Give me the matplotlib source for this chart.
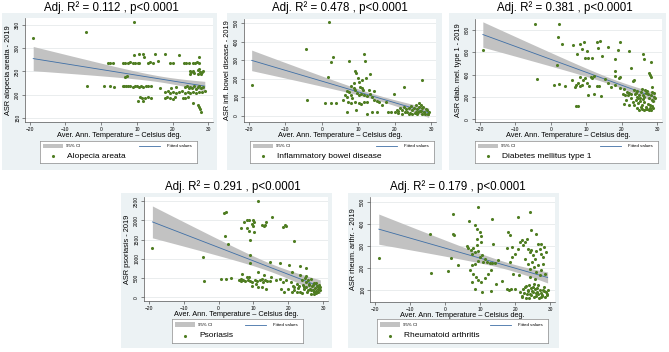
import numpy as np
import matplotlib.pyplot as plt
from matplotlib.patches import Rectangle
from matplotlib.lines import Line2D

plt.rcParams['font.family'] = ['Liberation Sans', 'DejaVu Sans']

# ---- data (temperature, ASR) ----
alo_x = [-19.0, -4.3, 9.3, -4.0, 0.8, 2.4, 3.7,
         1.8, 2.5, 3.2, 6.2, 6.8, 7.5, 8.2, 9.0, 9.6, 10.2, 10.7, 13.0, 13.6, 14.4, 19.2, 20.0, 23.2, 23.8, 24.6, 25.8, 26.3, 26.8, 27.4,
         9.3, 10.5, 11.8, 15.1, 18.0, 21.9, 12.1, 16.0, 27.5,
         24.8, 25.2, 25.6, 26.0, 27.2, 27.8, 28.3, 27.5, 28.0, 27.0, 25.0, 28.5,
         6.8, 7.3,
         6.0, 6.5, 7.0, 7.6, 8.2, 8.8, 9.4, 10.0, 10.6, 11.2, 11.8, 12.5, 13.2, 14.0,
         16.4, 19.5, 20.9,
         23.5, 24.0, 24.5, 25.0, 25.5, 26.0, 26.5, 27.0, 27.5, 28.0, 28.5,
         17.8, 18.6, 19.4, 20.2, 21.0, 21.8, 22.6, 23.4, 24.2, 25.0, 25.8, 26.6, 27.4, 28.2, 29.0,
         10.8, 11.5, 12.3, 13.1, 13.9, 17.8, 18.5, 19.2, 20.0, 20.6, 22.8, 23.6, 24.2,
         10.2, 11.6, 25.8, 27.2, 27.4, 27.8, 28.0]
alo_y = [323, 334, 356, 219, 218, 218, 217,
         268, 269, 269, 269, 268, 269, 270, 269, 268, 269, 269, 269, 270, 269, 268, 269, 269, 268, 269, 268, 269, 270, 268,
         286, 288, 287, 287, 288, 286, 282, 272, 281,
         250, 248, 251, 247, 252, 248, 249, 256, 245, 244, 245, 251,
         237, 240,
         218, 218, 219, 218, 218, 217, 218, 218, 217, 218, 217, 218, 218, 218,
         215, 214, 216,
         216, 218, 214, 217, 215, 219, 213, 216, 218, 214, 217,
         205, 207, 203, 206, 204, 205, 207, 204, 206, 203, 205, 204, 206, 205, 207,
         194, 193, 192, 194, 193, 192, 194, 193, 191, 194, 193, 192, 194,
         187, 187, 181, 178, 173, 168, 163]

ibd_x = [2.1, -4.3, -19.2, -4.1, 3.2, 2.4, 1.6, 0.9, 2.5, 3.8,
         7.4, 11.5, 11.8, 13.3, 12.1, 9.2, 9.4, 10.1, 9.8, 8.7,
         10.4, 11.0, 11.3, 8.7, 9.2, 7.0, 7.5, 6.3, 6.8, 7.9,
         8.3, 9.6, 10.1, 10.8, 11.7, 12.5, 13.2, 13.9, 5.8, 7.3,
         7.9, 9.2, 10.1, 10.8, 11.5, 12.5, 14.2, 15.1, 15.8, 7.0,
         9.4, 12.5, 13.9, 15.1, 16.5, 17.6, 19.7, 22.4, 27.4, 18.1,
         19.0, 20.0, 20.9, 12.9, 14.3, 8.0, 10.9,
         21.4, 21.9, 22.6, 23.3, 23.8, 24.2, 24.7, 25.2, 25.7, 26.1, 26.6, 27.1, 27.5, 28.0, 28.5,
         29.0, 29.3, 26.6, 25.7, 27.1, 24.7, 26.1, 27.5, 29.0, 23.8,
         20.5, 21.0, 22.0, 23.0, 24.5, 25.5, 26.8, 27.8, 28.8, 28.3, 22.8, 26.3]
ibd_y = [504, 360, 164, 86, 317, 288, 209, 70, 70, 70,
         293, 335, 293, 227, 205, 241, 229, 184, 202, 175,
         157, 150, 139, 151, 139, 133, 130, 112, 103, 112,
         94, 121, 112, 115, 112, 108, 115, 103, 85, 76,
         67, 72, 67, 61, 76, 72, 85, 79, 72, 22,
         31, 9, 18, 18, 58, 72, 115, 155, 194, 22,
         18, 22, 25, 140, 135, 160, 195,
         40, 31, 49, 22, 40, 13, 31, 43, 22, 36, 49, 25, 40, 18, 34,
         11, 22, 67, 58, 58, 7, 7, 7, 7, 7,
         30, 15, 8, 35, 55, 12, 28, 45, 30, 10, 20, 18]

dm1_x = [-19.1, -4.3, -4.0, 2.2, 2.0, 3.1, 1.7, 0.9, 2.4, 3.9,
         6.4, 7.3, 8.2, 9.4, 8.9, 10.1, 10.6, 11.7, 9.6, 13.1, 14.0, 13.4, 14.4, 16.0, 18.0, 18.1, 19.0, 19.5, 22.1, 22.7, 26.0, 26.3, 28.1,
         6.1, 7.0, 6.7, 7.8, 8.2, 8.7, 9.2, 9.6, 10.1, 10.7, 11.3, 11.7, 12.2, 10.4, 12.2, 14.1, 12.9, 13.5, 15.2, 16.1,
         16.9, 18.1, 19.1, 19.6, 18.0, 19.4, 20.7, 21.5, 22.1, 22.6, 20.3, 20.9, 23.1, 23.5, 27.7, 28.0, 28.1, 28.6, 7.0, 7.6, 8.2,
         23.5, 24.0, 24.4, 24.9, 25.4, 25.8, 26.3, 26.8, 27.2, 27.7, 28.1, 28.6, 29.1,
         24.0, 24.6, 25.2, 25.7, 26.3, 26.9, 27.4, 28.0, 28.6,
         23.5, 24.2, 24.9, 25.6, 26.3, 27.0, 27.7, 28.3,
         23.1, 22.6, 24.6, 26.0, 28.9, 29.3, 21.7, 21.2, 20.5, 22.1,
         24.2, 25.0, 25.9, 26.6, 27.3, 28.4, 29.0, 23.8, 25.3, 26.7, 27.9, 28.8]
dm1_y = [624, 851, 358, 854, 737, 672, 490, 307, 313, 296,
         666, 582, 678, 690, 627, 612, 552, 546, 552, 690, 705, 636, 570, 645, 537, 436, 618, 690, 612, 457, 585, 537, 516,
         352, 307, 293, 322, 299, 307, 352, 367, 322, 301, 382, 367, 391, 218, 227, 212, 301, 301, 361, 322,
         293, 388, 373, 382, 307, 284, 272, 248, 239, 230, 224, 218, 343, 349, 412, 397, 382, 293, 119, 119, 382,
         263, 233, 254, 218, 248, 272, 203, 233, 254, 188, 218, 242, 203,
         173, 143, 164, 128, 152, 113, 134, 99, 122,
         128, 104, 84, 93, 84, 90, 81, 87,
         158, 188, 194, 182, 164, 188, 218, 173, 134, 128,
         200, 190, 215, 260, 225, 170, 240, 230, 110, 95, 130, 105]

pso_x = [-18.9, -4.4, -4.1, 1.5, 2.1, 1.8, 2.8, 0.6, 2.2, 3.6,
         11.2, 15.3, 6.3, 7.2, 8.1, 8.8, 10.0, 10.2, 9.5, 9.8,
         8.2, 8.8, 10.2, 9.1, 12.5, 12.9, 13.2, 13.7, 18.4, 18.9,
         19.4, 21.5, 9.1, 8.9, 14.7, 17.5, 20.1, 23.3, 24.9, 21.0,
         11.3, 12.9, 6.6, 8.2, 8.6,
         5.9, 6.5, 7.1, 7.7, 8.3, 9.1, 9.7, 10.5, 11.1, 11.8, 12.6, 13.2, 13.9, 14.6,
         11.4, 12.3, 13.7, 6.3, 12.3, 15.0, 16.4, 17.5, 18.4, 19.2, 17.8, 18.7, 19.9, 9.5, 10.8,
         20.6, 21.2, 21.7, 22.4, 22.8, 23.3, 23.8, 24.2, 24.5, 24.9,
         25.1, 25.4, 25.8, 26.1, 26.3, 26.7, 26.9, 27.2, 27.6, 27.9,
         28.2, 28.5, 28.8, 29.1, 25.6, 26.5, 24.7, 24.0, 27.4, 22.4,
         21.5, 20.9, 23.3, 25.1,
         26.0, 27.0, 28.0, 28.7, 29.0, 26.4, 27.3, 24.5, 25.5, 27.8, 28.4, 23.0]
pso_y = [1276, 1034, 422, 2181, 2224, 1595, 1396, 483, 483, 508,
         2508, 2095, 1801, 1965, 2008, 2010, 2000, 1950, 1900, 1860,
         1810, 1733, 1690, 1491, 1888, 1845, 1888, 1948, 1820, 1890,
         1860, 1465, 1095, 879, 905, 896, 845, 810, 767, 646,
         646, 586, 603, 517, 517,
         440, 430, 445, 420, 440, 435, 410, 445, 425, 440, 400, 440, 430, 415,
         267, 267, 224, 483, 483, 526, 440, 466, 397, 440, 224, 138, 207, 300, 350,
         397, 293, 181, 353, 241, 138, 440, 310, 207, 397,
         267, 138, 328, 224, 95, 293, 181, 379, 241, 155,
         284, 207, 259, 181, 440, 466, 500, 121, 95, 138,
         267, 138, 569, 552,
         350, 320, 360, 320, 260, 200, 150, 260, 200, 100, 130, 300]

ra_x = [-18.8, -4.1, -3.9, 2.3, 1.6, 2.3, 2.7, 0.9, 3.6,
        6.9, 9.4, 13.4, 8.5, 9.0, 10.1, 10.3, 9.2, 10.4, 9.0, 8.1, 7.3, 6.7, 6.2,
        7.6, 8.5, 9.4, 9.9, 10.6, 11.3, 11.9, 12.7, 13.4, 14.3,
        15.2, 13.8, 10.8, 9.3, 8.5, 7.6, 7.1, 8.1, 8.8, 9.4,
        10.4, 11.3, 12.2, 13.1, 7.6, 8.5, 10.6, 13.1, 14.5, 16.3,
        17.7, 18.2, 18.9, 20.0, 21.9, 21.2, 19.3, 18.6, 19.1, 20.0,
        20.8, 21.4, 21.9, 22.3, 18.0, 18.4, 19.1, 17.7,
        22.8, 23.2, 23.7, 24.2, 24.6, 25.1, 25.5, 26.0, 26.5, 26.9, 27.4, 27.8, 28.3, 28.8,
        22.9, 23.5, 24.2, 24.8, 25.4, 26.0, 26.6, 27.2, 27.8, 28.5,
        24.2, 25.5, 26.9, 24.6, 24.3, 20.9, 26.0, 27.4,
        22.3, 22.9, 23.7, 24.4, 25.1, 25.7, 26.5, 27.0, 27.7, 28.3, 28.9,
        23.2, 24.6, 26.0, 27.4, 28.8, 23.9, 25.4, 26.6, 28.1, 21.4,
        22.0, 22.6, 23.1, 23.6, 24.1, 24.7, 25.3, 25.9, 26.2, 26.8,
        27.2, 27.9, 28.5, 29.0, 29.2, 23.0, 24.0, 25.0, 26.3, 27.6]
ra_y = [247, 353, 176, 447, 247, 356, 348, 186, 214,
        415, 476, 424, 394, 376, 364, 345, 333, 318, 303, 291, 280, 291, 300,
        265, 273, 276, 250, 261, 242, 227, 224, 221, 224,
        235, 308, 227, 230, 220, 212, 189, 174, 159, 144,
        136, 152, 174, 189, 136, 106, 91, 94, 129, 139,
        106, 99, 103, 106, 73, 167, 174, 227, 250, 265,
        288, 318, 326, 303, 364, 352, 295, 291,
        318, 333, 288, 273, 280, 258, 242, 276, 311, 288, 265, 250, 295, 273,
        242, 220, 197, 227, 205, 182, 212, 189, 220, 174,
        159, 149, 167, 371, 455, 432, 356, 311,
        106, 114, 94, 109, 91, 103, 83, 99, 79, 94, 76,
        83, 76, 73, 68, 91, 124, 129, 121, 114, 91,
        70, 88, 65, 100, 80, 95, 70, 88, 110, 62,
        85, 100, 66, 83, 98, 118, 63, 112, 92, 72]

titles = ['Adj. R² = 0.112 , p<0.0001', 'Adj. R² = 0.478 , p<0.0001',
          'Adj. R² = 0.381 , p<0.0001', 'Adj. R² = 0.291 , p<0.0001',
          'Adj. R² = 0.179 , p<0.0001']
ylabels = ['ASR alopecia areata - 2019', 'ASR infl. bowel disease - 2019',
           'ASR diab. mel. type 1 - 2019', 'ASR psoriasis - 2019',
           'ASR rheum. arthr. - 2019']
names = ['Alopecia areata', 'Inflammatory bowel disease', 'Diabetes mellitus type 1',
         'Psoriasis', 'Rheumatoid arthritis']
xs_all = [alo_x, ibd_x, dm1_x, pso_x, ra_x]
ys_all = [alo_y, ibd_y, dm1_y, pso_y, ra_y]
yticks_all = [np.arange(150, 351, 50), np.arange(0, 501, 100), np.arange(0, 801, 200),
              np.arange(0, 2501, 500), np.arange(100, 501, 100)]
ylims = [(141, 365), (-34, 522), (-24, 898), (-96, 2604), (45, 523)]
xticks = [-20, -10, 0, 10, 20, 30]

# ---- layout in pixels (x0, y0, x1, y1) ----
W, H = 669, 352
bg_px = [(2, 13, 217, 170), (227, 13, 442, 170), (449, 13, 666, 170),
         (121, 193, 332, 348), (348, 193, 559, 348)]
ax_px = [(25, 18, 213, 122), (244, 19, 436, 122), (475, 19, 662, 122),
         (144, 197, 328, 301), (370, 197, 555, 302)]
leg_px = [(40, 141, 197, 163), (250, 141, 434, 163), (475, 141, 658, 163),
          (172, 319, 303, 343), (377, 319, 548, 343)]
title_px = [(111, 8), (340, 8), (565, 8), (233, 187), (458, 187)]

GREEN = '#4f7d22'
BLUE = '#3f6fa6'
CIGRAY = '#c2c2c2'
BG = '#ecf2f4'


def rect(p):
    x0, y0, x1, y1 = p
    return [x0 / W, 1 - y1 / H, (x1 - x0) / W, (y1 - y0) / H]


def fit_ci(x, y):
    x = np.asarray(x, float)
    y = np.asarray(y, float)
    n = len(x)
    b, a = np.polyfit(x, y, 1)
    xs = np.linspace(x.min(), x.max(), 100)
    yhat = a + b * xs
    s = np.sqrt(np.sum((y - (a + b * x)) ** 2) / (n - 2))
    se = s * np.sqrt(1 / n + (xs - x.mean()) ** 2 / np.sum((x - x.mean()) ** 2))
    return xs, yhat, yhat - 1.97 * se, yhat + 1.97 * se


fig = plt.figure(figsize=(6.69, 3.52), dpi=100)

for i in range(5):
    # light graph region
    bg = fig.add_axes(rect(bg_px[i]))
    bg.set_facecolor(BG)
    bg.set_xticks([]); bg.set_yticks([])
    for s in bg.spines.values():
        s.set_visible(False)

    ax = fig.add_axes(rect(ax_px[i]))
    ax.set_facecolor('white')
    xs, yhat, lo, hi = fit_ci(xs_all[i], ys_all[i])
    ax.fill_between(xs, lo, hi, color=CIGRAY, lw=0, zorder=1)
    ax.plot(xs, yhat, color=BLUE, lw=0.6, zorder=2)
    ax.scatter(xs_all[i], ys_all[i], s=5, color=GREEN, lw=0, zorder=3)
    ax.set_xlim(-21.3, 31.3)
    ax.set_ylim(*ylims[i])
    ax.set_xticks(xticks)
    ax.set_yticks(yticks_all[i])
    ax.grid(axis='y', color='#e2e6e8', lw=0.5)
    ax.set_axisbelow(True)
    for side in ['top', 'right']:
        ax.spines[side].set_visible(False)
    for side in ['left', 'bottom']:
        ax.spines[side].set_color('#555555')
        ax.spines[side].set_linewidth(0.5)
    ax.tick_params(length=2, width=0.5, color='#555555', labelsize=3.5, pad=1.5)
    for lab in ax.get_yticklabels():
        lab.set_rotation(90)
        lab.set_va('center')
    ax.set_xlabel('Aver. Ann. Temperature – Celsius deg.', fontsize=5.3, labelpad=0)
    ax.set_ylabel(ylabels[i], fontsize=5.3, labelpad=2)

    fig.text(title_px[i][0] / W, 1 - title_px[i][1] / H, titles[i],
             ha='center', va='center', fontsize=8.3)

    # legend box
    lg = fig.add_axes(rect(leg_px[i]))
    lg.set_xlim(0, 1); lg.set_ylim(0, 1)
    lg.set_xticks([]); lg.set_yticks([])
    lg.set_facecolor('white')
    for s in lg.spines.values():
        s.set_color('#8a8a8a')
        s.set_linewidth(0.5)
    lw_px = leg_px[i][2] - leg_px[i][0]
    u = 1 / lw_px
    lg.add_patch(Rectangle((3 * u, 0.66), 20 * u, 0.22, color=CIGRAY, lw=0))
    lg.text(26 * u, 0.77, '95% CI', fontsize=3.2, va='center')
    lg.text(1 - 5 * u, 0.77, 'Fitted values', fontsize=3.2, va='center', ha='right')
    lg.add_line(Line2D([1 - 58 * u, 1 - 37 * u], [0.77, 0.77], color=BLUE, lw=0.6))
    lg.scatter([13 * u], [0.3], s=5, color=GREEN, lw=0)
    lg.text(27 * u, 0.3, names[i], fontsize=6, va='center')

fig.savefig('out.png', dpi=100)
